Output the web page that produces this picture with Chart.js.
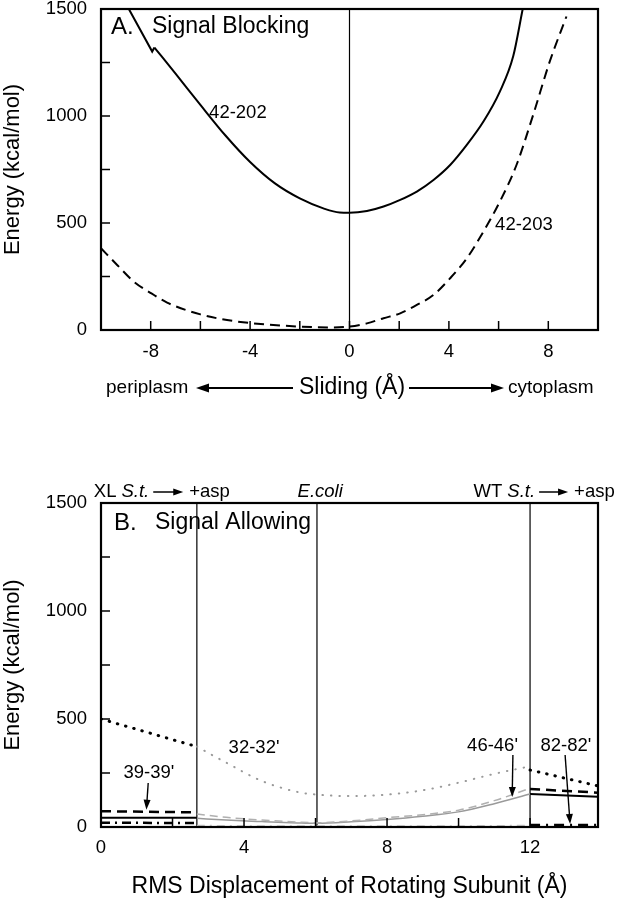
<!DOCTYPE html>
<html>
<head>
<meta charset="utf-8">
<script src="https://cdn.jsdelivr.net/npm/chart.js@4.4.1/dist/chart.umd.min.js"></script>
<style>
  html, body { margin: 0; padding: 0; background: #fff; }
  #wrap { position: relative; width: 619px; height: 900px; }
  canvas { position: absolute; left: 0; }
  #chartA { top: 0; }
  #chartB { top: 460px; }
</style>
</head>
<body>
<div id="wrap">
  <canvas id="chartA" width="619" height="410"></canvas>
  <canvas id="chartB" width="619" height="440"></canvas>
</div>
<script>
// ---- Panel A: signal blocking (sliding) ----
// 42-202 has a small notch near -8 A, kept as straight pieces
const a202NotchX = [-8.88, -7.94, -7.85];
const a202NotchY = [1500, 1301, 1320];
const a202X = [-7.85, -7, -6, -5, -4, -3, -2, -1, -0.4, 0, 0.7, 1.37, 2.04, 2.71, 3.38, 4.05, 4.72, 5.39, 6.05, 6.59, 6.97];
const a202Y = [1320, 1198, 1052, 910, 785, 685, 615, 566, 549, 548, 556, 577, 608, 647, 701, 771, 865, 974, 1114, 1280, 1500];
const a203X = [-10, -9.35, -8.68, -7.97, -7.34, -6, -4.66, -2.65, -0.64, 0, 0.7, 1.37, 2.04, 2.71, 3.38, 4.05, 4.72, 5.39, 6.05, 6.72, 7.39, 8.06, 8.73];
const a203Y = [382, 304, 226, 171, 128, 73, 42, 20, 12, 16, 31, 55, 78, 117, 164, 242, 335, 460, 600, 771, 1005, 1255, 1465];
const aMarkers = [0];
const aXLabels = [-8, -4, 0, 4, 8];

// ---- Panel B: signal allowing (rotation) ----
const bMarkers = [2.68, 6.04, 12.0];
const bXLabels = [0, 4, 8, 12];
const bLeftX = [0, 2.68];
const bMidX = [2.68, 3.5, 4.5, 5.5, 6.04, 7, 8, 9, 10, 11, 12];
const bRightX = [12, 13.9];
const dot32Left = [500, 372];
const dot32Mid = [372, 298, 213, 162, 150, 143, 150, 170, 205, 246, 281];
const dot32Right = [264, 190];
const dash39Left = [73, 68];
const dash39Mid = [60, 45, 32, 23, 20, 28, 43, 57, 78, 122, 179];
const dash39Right = [176, 159];
const solid46Left = [43, 43];
const solid46Mid = [40, 32, 25, 19, 17, 24, 35, 50, 70, 108, 153];
const solid46Right = [153, 140];
const dd82Left = [20, 18];
const dd82Mid = [7, 6, 5, 5, 5, 5, 5, 5, 5, 6, 7];
const dd82Right = [8, 8];

const yLabels = [0, 500, 1000, 1500];

const FONT = '"Liberation Sans", Arial, Helvetica, sans-serif';
Chart.defaults.font.family = FONT;
Chart.defaults.color = '#000';

const pts = (xs, ys) => xs.map((x, i) => ({ x, y: ys[i] }));

function arrow(ctx, x1, y1, x2, y2, len, hw, lw) {
  const ang = Math.atan2(y2 - y1, x2 - x1);
  ctx.lineWidth = lw;
  ctx.beginPath();
  ctx.moveTo(x1, y1);
  ctx.lineTo(x2 - Math.cos(ang) * len * 0.8, y2 - Math.sin(ang) * len * 0.8);
  ctx.stroke();
  ctx.beginPath();
  ctx.moveTo(x2, y2);
  ctx.lineTo(x2 - Math.cos(ang) * len - Math.sin(ang) * hw, y2 - Math.sin(ang) * len + Math.cos(ang) * hw);
  ctx.lineTo(x2 - Math.cos(ang) * len + Math.sin(ang) * hw, y2 - Math.sin(ang) * len - Math.cos(ang) * hw);
  ctx.closePath();
  ctx.fill();
}

// run of text pieces and arrows on one line, starting at x
function drawRun(ctx, x, y, pieces, size) {
  ctx.textBaseline = 'middle';
  ctx.textAlign = 'left';
  pieces.forEach(p => {
    if (p.arrow) {
      arrow(ctx, x, y, x + p.arrow, y, 10, 3.5, 1.5);
      x += p.arrow;
    } else {
      ctx.font = (p.italic ? 'italic ' : '') + size + 'px ' + FONT;
      ctx.fillText(p.t, x, y);
      x += ctx.measureText(p.t).width;
    }
    x += p.gap || 0;
  });
}

const panelDeco = {
  id: 'panelDeco',
  beforeDatasetsDraw(chart, args, opts) {
    const { ctx, chartArea: a, scales: { x } } = chart;
    ctx.save();
    ctx.strokeStyle = opts.markerColor;
    ctx.lineWidth = opts.markerWidth;
    opts.markers.forEach(v => {
      const px = x.getPixelForValue(v);
      ctx.beginPath();
      ctx.moveTo(px, a.top);
      ctx.lineTo(px, a.bottom);
      ctx.stroke();
    });
    ctx.restore();
  },
  afterDraw(chart, args, opts) {
    const { ctx, chartArea: a, scales: { x, y } } = chart;
    ctx.save();
    ctx.strokeStyle = '#000';
    ctx.fillStyle = '#000';
    // frame
    ctx.lineWidth = 2.2;
    ctx.strokeRect(a.left, a.top, a.right - a.left, a.bottom - a.top);
    // inward ticks
    ctx.lineWidth = 1.5;
    x.ticks.forEach(t => {
      if (t.value <= x.min || t.value >= x.max) return;
      const px = x.getPixelForValue(t.value);
      ctx.beginPath(); ctx.moveTo(px, a.bottom); ctx.lineTo(px, a.bottom - 9); ctx.stroke();
    });
    y.ticks.forEach(t => {
      if (t.value <= y.min || t.value >= y.max) return;
      const py = y.getPixelForValue(t.value);
      ctx.beginPath(); ctx.moveTo(a.left, py); ctx.lineTo(a.left + 9, py); ctx.stroke();
    });
    // panel heading
    ctx.textBaseline = 'middle';
    ctx.textAlign = 'left';
    ctx.font = '24px ' + FONT;
    ctx.fillText(opts.letter, a.left + opts.headDx, a.top + opts.headDy);
    ctx.font = '23px ' + FONT;
    ctx.fillText(opts.heading, a.left + opts.headDx + 41, a.top + opts.headDy);
    // curve labels
    ctx.font = '18.5px ' + FONT;
    opts.labels.forEach(l => {
      ctx.textAlign = l.align || 'center';
      ctx.fillText(l.text, x.getPixelForValue(l.x), y.getPixelForValue(l.y));
      if (l.to) {
        arrow(ctx, x.getPixelForValue(l.from[0]), y.getPixelForValue(l.from[1]),
          x.getPixelForValue(l.to[0]), y.getPixelForValue(l.to[1]), 10, 3.5, 1.4);
      }
    });
    if (opts.extra) opts.extra(ctx, chart);
    ctx.restore();
  }
};

function baseScales(xMin, xMax, xLab, xPad, xHeight) {
  return {
    x: {
      type: 'linear', min: xMin, max: xMax,
      grid: { display: false, drawTicks: false }, border: { display: false },
      ticks: {
        stepSize: 2, autoSkip: false, padding: xPad, maxRotation: 0,
        font: { size: 18.5 },
        callback: v => xLab.includes(v) ? String(v) : ''
      },
      afterFit: s => { s.height = xHeight; s.paddingLeft = 0; s.paddingRight = 0; }
    },
    y: {
      min: 0, max: 1500,
      grid: { display: false, drawTicks: false }, border: { display: false },
      ticks: {
        stepSize: 250, autoSkip: false, padding: 14,
        font: { size: 18.5 },
        callback: v => yLabels.includes(v) ? String(v) : ''
      },
      title: { display: true, text: 'Energy (kcal/mol)', font: { size: 22 }, padding: { top: 0, bottom: 0 } },
      afterFit: s => { s.width = 101; s.paddingTop = 0; s.paddingBottom = 0; }
    }
  };
}

const common = {
  responsive: false,
  animation: false,
  devicePixelRatio: 1,
  elements: { point: { radius: 0 } },
  layout: { padding: { left: 0, right: 21, bottom: 0 } }
};

// ---- chart A ----
new Chart(document.getElementById('chartA'), {
  type: 'line',
  data: {
    datasets: [
      { label: '42-202', data: pts(a202NotchX, a202NotchY), borderColor: '#000', borderWidth: 2, tension: 0, borderJoinStyle: 'miter' },
      { label: '42-202', data: pts(a202X, a202Y), borderColor: '#000', borderWidth: 2, cubicInterpolationMode: 'monotone' },
      { label: '42-203', data: pts(a203X, a203Y), borderColor: '#000', borderWidth: 2, borderDash: [10, 6], cubicInterpolationMode: 'monotone' }
    ]
  },
  options: Object.assign({}, common, {
    layout: { padding: { left: 0, right: 21, top: 9, bottom: 0 } },
    scales: baseScales(-10, 10, aXLabels, 11, 80),
    plugins: {
      legend: { display: false }, tooltip: { enabled: false },
      panelDeco: {
        markers: aMarkers, markerColor: '#000', markerWidth: 1.2,
        letter: 'A.', heading: 'Signal Blocking', headDx: 10, headDy: 18,
        labels: [
          { text: '42-202', x: -5.65, y: 1014, align: 'left' },
          { text: '42-203', x: 5.86, y: 491, align: 'left' }
        ],
        extra: (ctx, chart) => {
          const cy = 388;
          ctx.textBaseline = 'middle';
          ctx.textAlign = 'left';
          ctx.font = '19px ' + FONT;
          ctx.fillText('periplasm', 106, cy);
          ctx.fillText('cytoplasm', 508, cy);
          ctx.font = '23px ' + FONT;
          ctx.textAlign = 'center';
          ctx.fillText('Sliding (Å)', 352, cy);
          arrow(ctx, 293, cy, 196, cy, 13, 4.5, 2);
          arrow(ctx, 409, cy, 504, cy, 13, 4.5, 2);
        }
      }
    }
  }),
  plugins: [panelDeco]
});

// ---- chart B ----
const black = '#000', grey = '#9a9a9a';
const seg = (label, xs, ys, color, width, dash, cap) => ({
  label, data: pts(xs, ys), borderColor: color, borderWidth: width,
  borderDash: dash || [], borderCapStyle: cap || 'butt', cubicInterpolationMode: 'monotone'
});

const scalesB = baseScales(0, 13.9, bXLabels, 10, 73);
scalesB.x.title = { display: true, text: 'RMS Displacement of Rotating Subunit (Å)', font: { size: 23 }, padding: { top: 0, bottom: 0 } };

new Chart(document.getElementById('chartB'), {
  type: 'line',
  data: {
    datasets: [
      seg("32-32'", bLeftX, dot32Left, black, 3, [0.5, 8], 'round'),
      seg("32-32'", bMidX, dot32Mid, grey, 2, [0.5, 8], 'round'),
      seg("32-32'", bRightX, dot32Right, black, 3, [0.5, 8], 'round'),
      seg("39-39'", bLeftX, dash39Left, black, 2.5, [10, 6]),
      seg("39-39'", bMidX, dash39Mid, '#b0b0b0', 1.5, [8, 5]),
      seg("39-39'", bRightX, dash39Right, black, 2.5, [10, 6]),
      seg("46-46'", bLeftX, solid46Left, black, 2),
      seg("46-46'", bMidX, solid46Mid, grey, 1.5),
      seg("46-46'", bRightX, solid46Right, black, 2),
      seg("82-82'", bLeftX, dd82Left, black, 2.5, [9, 5, 2, 5]),
      seg("82-82'", bMidX, dd82Mid, '#c8c8c8', 1.5, [8, 5, 2, 5]),
      seg("82-82'", bRightX, dd82Right, black, 3, [10, 6, 2, 6])
    ]
  },
  options: Object.assign({}, common, {
    layout: { padding: { left: 0, right: 21, top: 43, bottom: 0 } },
    scales: scalesB,
    plugins: {
      legend: { display: false }, tooltip: { enabled: false },
      panelDeco: {
        markers: bMarkers, markerColor: '#333', markerWidth: 1.5,
        letter: 'B.', heading: 'Signal Allowing', headDx: 13, headDy: 20,
        labels: [
          { text: "32-32'", x: 4.28, y: 366 },
          { text: "39-39'", x: 1.34, y: 250, from: [1.32, 204], to: [1.27, 80] },
          { text: "46-46'", x: 10.95, y: 375, from: [11.52, 333], to: [11.5, 139] },
          { text: "82-82'", x: 13.0, y: 375, from: [12.98, 333], to: [13.12, 14] }
        ],
        extra: (ctx, chart) => {
          const x = chart.scales.x;
          const cy = 32;
          drawRun(ctx, x.getPixelForValue(-0.2), cy,
            [{ t: 'XL', gap: 5 }, { t: 'S.t.', italic: true, gap: 4 }, { arrow: 30, gap: 6 }, { t: '+asp' }], 18.5);
          ctx.font = 'italic 18.5px ' + FONT;
          ctx.textAlign = 'center';
          ctx.fillText('E.coli', x.getPixelForValue(6.13), cy);
          drawRun(ctx, x.getPixelForValue(10.42), cy,
            [{ t: 'WT', gap: 5 }, { t: 'S.t.', italic: true, gap: 4 }, { arrow: 29, gap: 6 }, { t: '+asp' }], 18.5);
        }
      }
    }
  }),
  plugins: [panelDeco]
});
</script>
</body>
</html>
